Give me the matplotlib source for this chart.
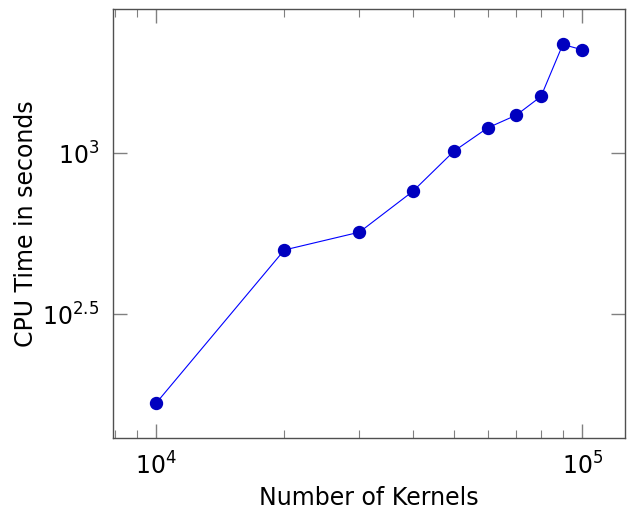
import matplotlib.pyplot as plt
from matplotlib.ticker import FixedLocator, FixedFormatter, LogLocator, NullFormatter

# Data
kernels = [10000, 20000, 30000, 40000, 50000, 60000, 70000, 80000, 90000, 100000]
cpu_time = [167, 500, 568, 760, 1014, 1198, 1312, 1500, 2176, 2093]

fig = plt.figure(figsize=(6.3, 5.12), dpi=100)
ax = fig.add_axes([0.180, 0.144, 0.812, 0.838])

ax.plot(kernels, cpu_time, color='#0000FF', linewidth=0.8,
        marker='o', markersize=8.6, markerfacecolor='#0000BF',
        markeredgecolor='#0000BF')

ax.set_xscale('log')
ax.set_yscale('log')
ax.set_xlim(10 ** 3.9, 10 ** 5.1)
ax.set_ylim(10 ** 2.114, 10 ** 3.447)

# x ticks: decades with minor ticks
ax.xaxis.set_major_locator(FixedLocator([1e4, 1e5]))
ax.xaxis.set_major_formatter(FixedFormatter([r'$10^4$', r'$10^5$']))
ax.xaxis.set_minor_locator(LogLocator(base=10, subs=range(2, 10)))
ax.xaxis.set_minor_formatter(NullFormatter())

# y ticks at half decades, no minor ticks
ax.yaxis.set_major_locator(FixedLocator([10 ** 2.5, 1e3]))
ax.yaxis.set_major_formatter(FixedFormatter([r'$10^{2.5}$', r'$10^3$']))
ax.yaxis.set_minor_locator(FixedLocator([]))

ax.tick_params(which='both', direction='in', top=True, right=True,
               color='#808080', labelsize=17)
ax.tick_params(which='major', length=10, width=1, pad=10)
ax.tick_params(which='minor', length=6, width=0.8)

for s in ax.spines.values():
    s.set_color('#505050')
    s.set_linewidth(1.0)

ax.set_xlabel('Number of Kernels', fontsize=17, labelpad=5)
ax.set_ylabel('CPU Time in seconds', fontsize=17, labelpad=3)

fig.savefig('out.png', dpi=100)
